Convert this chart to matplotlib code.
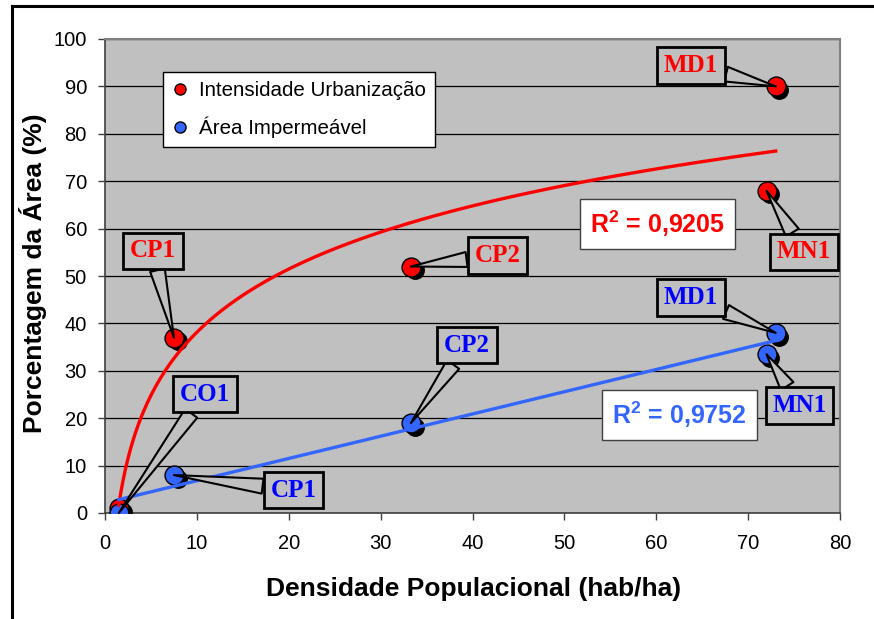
import numpy as np
import matplotlib
matplotlib.use('Agg')
import matplotlib.pyplot as plt
from matplotlib.transforms import ScaledTranslation
from matplotlib.lines import Line2D

# ---------------- data ----------------
sites = ['CO1', 'CP1', 'CP2', 'MN1', 'MD1']
dens = [1.5, 7.5, 33.3, 72.0, 73.0]          # Densidade Populacional (hab/ha)
urb = [1.0, 37.0, 52.0, 68.0, 90.0]          # Intensidade Urbanização (%)
imp = [0.0, 8.0, 19.0, 33.5, 38.0]           # Área Impermeável (%)
r2_urb = '0,9205'
r2_imp = '0,9752'
xticks = [0, 10, 20, 30, 40, 50, 60, 70, 80]
yticks = [0, 10, 20, 30, 40, 50, 60, 70, 80, 90, 100]
legend_labels = ['Intensidade Urbanização', 'Área Impermeável']

# label positions (data coords) for callouts
urb_lab_pos = {'CP1': (5.2, 55.3), 'CP2': (42.7, 54.3), 'MN1': (76.1, 55.1), 'MD1': (63.8, 94.4)}
imp_lab_pos = {'CO1': (10.9, 25.1), 'CP1': (20.5, 4.85), 'CP2': (39.4, 35.4), 'MN1': (75.6, 22.7), 'MD1': (63.8, 45.5)}

RED = '#FF0000'
BLUE = '#3366FF'
BLUE_TXT = '#0000FF'
GREY = '#C0C0C0'

plt.rcParams['font.family'] = ['Liberation Sans', 'DejaVu Sans']
plt.rcParams['mathtext.default'] = 'regular'

fig = plt.figure(figsize=(8.74, 6.19), dpi=100)
W, H = 874, 619
ax = fig.add_axes([105 / W, 1 - 513 / H, 735 / W, 474 / H])
ax.set_facecolor(GREY)
ax.set_xlim(0, 80)
ax.set_ylim(0, 100)
ax.set_xticks(xticks)
ax.set_yticks(yticks)
ax.yaxis.grid(True, color='black', lw=0.9)
ax.set_axisbelow(True)
for s in ['top', 'right']:
    ax.spines[s].set_color('#808080')
    ax.spines[s].set_linewidth(1.5)
for s in ['left', 'bottom']:
    ax.spines[s].set_color('#404040')
    ax.spines[s].set_linewidth(1.2)
ax.tick_params(axis='both', direction='out', length=5, width=1, labelsize=14.5, color='#404040')
ax.tick_params(axis='x', pad=10)
ax.tick_params(axis='y', pad=8)

ax.set_xlabel('Densidade Populacional (hab/ha)', fontsize=19, fontweight='bold')
ax.xaxis.set_label_coords(0.502, -0.135)
ax.set_ylabel('Porcentagem da Área (%)', fontsize=19, fontweight='bold')
ax.yaxis.set_label_coords(-0.079, 0.505)

# ---------------- markers with shadow ----------------
shadow = ax.transData + ScaledTranslation(3.8 / 100, -3.8 / 100, fig.dpi_scale_trans)
ms = 185
ax.scatter(dens, urb, s=ms, c='black', transform=shadow, zorder=3, linewidths=0)
ax.scatter(dens, urb, s=ms, c=RED, edgecolors='black', linewidths=1.0, zorder=4)
ax.scatter(dens, imp, s=ms, c='black', transform=shadow, zorder=5, linewidths=0)
ax.scatter(dens, imp, s=ms, c=BLUE, edgecolors='black', linewidths=1.0, zorder=6)

# ---------------- trend lines ----------------
xd = np.array(dens)
a, b = np.polyfit(np.log(xd), np.array(urb), 1)
xs = np.linspace(xd.min(), xd.max(), 300)
ax.plot(xs, a * np.log(xs) + b, color=RED, lw=2.4, zorder=7)
m, c = np.polyfit(xd, np.array(imp), 1)
xl = np.array([xd.min(), xd.max()])
ax.plot(xl, m * xl + c, color=BLUE, lw=2.4, zorder=7)

# ---------------- callouts ----------------
def callout(name, xy, xytext, color):
    ax.annotate(name, xy=xy, xytext=xytext, textcoords='data', ha='center', va='center',
                fontsize=18, fontweight='bold', color=color,
                family=['Liberation Serif', 'DejaVu Serif'],
                bbox=dict(boxstyle='square,pad=0.27', fc=GREY, ec='black', lw=2.0),
                arrowprops=dict(arrowstyle='wedge,tail_width=0.6,shrink_factor=0.5',
                                fc=GREY, ec='black', lw=1.5, shrinkA=0, shrinkB=0),
                zorder=10)

for i, nm in enumerate(sites):
    if nm in urb_lab_pos:
        callout(nm, (dens[i], urb[i]), urb_lab_pos[nm], RED)
for i, nm in enumerate(sites):
    if nm in imp_lab_pos:
        callout(nm, (dens[i], imp[i]), imp_lab_pos[nm], BLUE_TXT)

# ---------------- R² boxes ----------------
ax.text(60.1, 61.0, 'R$^2$ = ' + r2_urb, ha='center', va='center', fontsize=18,
        fontweight='bold', color=RED, zorder=11,
        bbox=dict(boxstyle='square,pad=0.4', fc='white', ec='#404040', lw=1.0))
ax.text(62.5, 20.7, 'R$^2$ = ' + r2_imp, ha='center', va='center', fontsize=18,
        fontweight='bold', color=BLUE, zorder=11,
        bbox=dict(boxstyle='square,pad=0.4', fc='white', ec='#404040', lw=1.0))

# ---------------- legend ----------------
handles = [Line2D([], [], ls='none', marker='o', ms=8, mfc=RED, mec='black', mew=1.0),
           Line2D([], [], ls='none', marker='o', ms=8, mfc=BLUE, mec='black', mew=1.0)]
leg = ax.legend(handles, legend_labels, loc='upper left', bbox_to_anchor=(0.0789, 0.930),
                borderaxespad=0, fontsize=14.8, frameon=True, fancybox=False,
                edgecolor='black', framealpha=1, handlelength=0.8, handletextpad=0.5,
                labelspacing=0.78, borderpad=0.45)
leg.get_frame().set_linewidth(1.0)
leg.set_zorder(12)

# ---------------- outer frame ----------------
fig.add_artist(Line2D([12 / W, 1], [1 - 6 / H, 1 - 6 / H], color='black', lw=2.2))
fig.add_artist(Line2D([12 / W, 12 / W], [0, 1 - 6 / H], color='black', lw=2.2))

fig.savefig('out.png', dpi=100)
